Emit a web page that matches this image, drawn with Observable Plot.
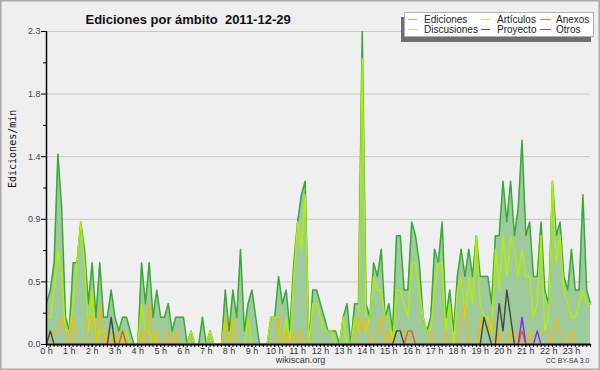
<!DOCTYPE html>
<html><head><meta charset="utf-8">
<script src="https://cdn.jsdelivr.net/npm/d3@7"></script>
<script src="https://cdn.jsdelivr.net/npm/@observablehq/plot@0.6"></script>
<style>
html,body{margin:0;padding:0;background:#fff}
svg text{white-space:pre}
</style></head><body><div id="chart"></div>
<script>
// 10-minute buckets, 0:00 .. 23:50 (edits per minute)
const ediciones = [
 0.3,0.4,0.6,1.4,1.0,0.2,0.1,0.6,0.6,0.9,
 0.7,0.3,0.6,0.2,0.6,0.2,0.2,0.4,0.2,0.1,
 0.2,0.2,0.1,0,0,0.6,0.3,0.6,0.2,0.4,
 0.2,0.2,0.3,0.1,0.2,0.2,0.2,0,0.1,0,
 0,0.2,0,0.1,0,0,0,0.4,0.1,0.4,
 0.2,0.7,0.1,0.3,0.4,0.2,0,0,0,0.2,
 0.2,0.5,0.3,0.4,0.1,0.6,0.9,1.1,1.2,0,
 0.4,0.4,0.3,0.2,0.1,0.1,0.1,0,0.2,0.3,
 0,0.3,0.3,2.3,0.3,0.2,0.6,0.5,0.7,0.2,
 0.3,0.1,0.8,0.8,0.4,0.4,0.9,0.8,0.6,0.2,
 0.1,0.2,0.7,0.6,0.9,0.2,0.4,0.1,0.5,0.7,
 0.5,0.7,0.5,0.8,0.5,0.5,0.5,0.3,0.8,0.8,
 1.2,0.9,1.2,0.8,1.0,1.5,0.8,0.9,0.5,0.5,
 0.9,0.4,0.3,1.2,0.8,0.9,0.5,0.4,0.7,0.4,
 0.4,1.1,0.4,0.3];
const articulos = [
 0.2,0.2,0.4,0.7,0.5,0.1,0.1,0.3,0.6,0.9,
 0.6,0.1,0.4,0,0.1,0.1,0.1,0,0.1,0,
 0,0.1,0,0,0,0.3,0.1,0.1,0,0.1,
 0,0,0,0,0,0,0,0,0.1,0,
 0,0,0,0.1,0,0,0,0.2,0,0.2,
 0,0,0,0.2,0,0,0,0,0,0.2,
 0.2,0.2,0,0.2,0,0.5,0.9,0.7,1.1,0,
 0.3,0.3,0.2,0.1,0.1,0.1,0,0,0.2,0,
 0,0.2,0.1,2.1,0.1,0.2,0.5,0.4,0.4,0.2,
 0.2,0,0.4,0.4,0.3,0.2,0.6,0.6,0.4,0.2,
 0.1,0.1,0.4,0.6,0.6,0.1,0.3,0,0.4,0.5,
 0.2,0.5,0.3,0.8,0.3,0.2,0.2,0.1,0.7,0.4,
 0.8,0.5,0.8,0.7,0.5,0.7,0.5,0.5,0.2,0.3,
 0.8,0.1,0.2,1.2,0.6,0.8,0.4,0.3,0.2,0.2,
 0.3,0.4,0.3,0.3];
const discusiones = [
 0,0,0.1,0.1,0.2,0.1,0,0.2,0,0,
 0,0.2,0.2,0,0.3,0,0.1,0,0.1,0,
 0.1,0,0,0,0,0.1,0,0.3,0,0.1,
 0,0,0.1,0,0.1,0,0,0,0,0,
 0,0,0,0,0,0,0,0.2,0,0.2,
 0,0,0,0,0,0,0,0,0,0,
 0,0.2,0,0.1,0,0.1,0,0.1,0,0,
 0,0,0,0,0,0,0,0,0,0,
 0,0,0.2,0.1,0.2,0,0,0.1,0.2,0,
 0.1,0,0.1,0.1,0.1,0,0,0,0,0,
 0,0.1,0,0,0,0.1,0,0,0,0.2,
 0.3,0,0,0,0.2,0.1,0.1,0.2,0,0.1,
 0,0,0.1,0,0.1,0,0,0.1,0,0.1,
 0.1,0.1,0.1,0,0.2,0.1,0,0,0.1,0,
 0,0,0,0];
const anexos = [
 0,0,0,0,0,0,0,0,0,0, 0,0,0,0,0,0,0,0,0,0,
 0.1,0,0,0,0,0,0,0,0,0, 0,0,0,0,0,0,0,0,0,0,
 0,0,0,0,0,0,0,0,0,0, 0,0,0,0,0,0,0,0,0,0,
 0,0,0,0,0,0,0,0,0,0, 0,0,0,0,0,0,0,0,0,0,
 0,0,0,0,0,0,0,0,0,0, 0,0,0,0,0,0.1,0.1,0,0,0,
 0,0,0,0,0,0,0,0,0,0, 0,0,0,0,0,0,0,0,0,0,
 0,0,0,0,0,0.1,0,0,0,0, 0,0,0,0,0,0,0,0,0,0,
 0,0,0,0];
const proyecto = [
 0,0.1,0,0,0,0,0,0,0,0, 0,0,0,0,0,0,0,0.2,0,0,
 0,0,0,0,0,0,0,0,0,0, 0,0,0,0,0,0,0,0,0,0,
 0,0,0,0,0,0,0,0,0,0, 0,0,0,0,0,0,0,0,0,0,
 0,0,0,0,0,0,0,0,0,0, 0,0,0,0,0,0,0,0,0,0,
 0,0,0,0,0,0,0,0,0,0, 0,0,0.1,0.1,0,0,0,0,0,0,
 0,0,0,0,0,0,0,0,0,0, 0,0,0,0,0,0.2,0.1,0,0,0.3,
 0.1,0.4,0.2,0,0,0,0,0,0,0, 0,0,0,0,0,0,0,0,0,0,
 0,0,0,0];
const otros = [
 0,0,0,0,0,0,0,0,0,0, 0,0,0,0,0,0,0,0,0,0,
 0,0,0,0,0,0,0,0,0,0, 0,0,0,0,0,0,0,0,0,0,
 0,0,0,0,0,0,0,0,0,0, 0,0,0,0,0,0,0,0,0,0,
 0,0,0,0,0,0,0,0,0,0, 0,0,0,0,0,0,0,0,0,0,
 0,0,0,0,0,0,0,0,0,0, 0,0,0,0,0,0,0,0,0,0,
 0,0,0,0,0,0,0,0,0,0, 0,0,0,0,0,0,0,0,0,0,
 0,0,0,0,0,0.2,0,0,0,0.1, 0,0,0,0,0,0,0,0,0,0,
 0,0,0,0];

const seriesNames = ["Ediciones","Artículos","Anexos","Discusiones","Proyecto","Otros"];
const hourLabels = ["0 h","1 h","2 h","3 h","4 h","5 h","6 h","7 h","8 h","9 h","10 h","11 h",
  "12 h","13 h","14 h","15 h","16 h","17 h","18 h","19 h","20 h","21 h","22 h","23 h"];
const yTickValues = [0, 0.46, 0.92, 1.38, 1.84, 2.3];
const yTickLabels = ["0.0","0.5","0.9","1.4","1.8","2.3"];
const yMinorValues = [0.23, 0.69, 1.15, 1.61, 2.07];
const title = "Ediciones por ámbito  2011-12-29";
const yTitle = "Ediciones/min";

const colors = {
  "Ediciones": "#36aa33", "Artículos": "#b4ee00", "Anexos": "#ea5a1e",
  "Discusiones": "#f2b812", "Proyecto": "#444444", "Otros": "#7a2ef0"
};
const legendColors = {
  "Ediciones": "#7fc97c", "Artículos": "#c6ec3c", "Anexos": "#f07a50",
  "Discusiones": "#f8cb3c", "Proyecto": "#555555", "Otros": "#8a48f0"
};

const rows = arr => arr.map((v, i) => ({t: i, v}));
const slots = ediciones.map((_, i) => i);
const hourSlots = hourLabels.map((_, h) => h * 6);

const lineOf = (arr, name, w = 1.4) =>
  Plot.lineY(rows(arr), {x: "t", y: "v", stroke: colors[name], strokeWidth: w});

const chart = Plot.plot({
  width: 600, height: 370,
  marginTop: 31, marginRight: 10, marginBottom: 26, marginLeft: 46,
  style: {background: "#efeff0", fontFamily: "'Liberation Sans', Arial, sans-serif", fontSize: "9px", color: "#333", overflow: "visible"},
  x: {domain: [0, slots.length - 1], label: null},
  y: {domain: [0, 2.3], label: null},
  marks: [
    Plot.ruleY(yTickValues.slice(1), {stroke: "#c8c8c8", strokeWidth: 1}),
    Plot.areaY(rows(ediciones), {x: "t", y: "v", fill: "#9fcb9c"}),
    lineOf(ediciones, "Ediciones", 1.5),
    lineOf(articulos, "Artículos"),
    lineOf(discusiones, "Discusiones"),
    lineOf(anexos, "Anexos"),
    lineOf(proyecto, "Proyecto"),
    lineOf(otros, "Otros"),
    Plot.axisX({ticks: slots, tickSize: 3, tickFormat: () => "", stroke: "#000"}),
    Plot.axisX({ticks: hourSlots, tickSize: 3, tickPadding: 0, stroke: "#000",
      tickFormat: d => hourLabels[d / 6], fill: "#333", fontSize: 9}),
    Plot.axisY({ticks: yMinorValues, tickSize: 3, tickFormat: () => "", stroke: "#000"}),
    Plot.axisY({ticks: yTickValues, tickSize: 5, tickPadding: 1, stroke: "#000",
      tickFormat: d => yTickLabels[yTickValues.indexOf(d)], fill: "#444", fontSize: 9}),
    Plot.ruleX([0], {stroke: "#000", strokeWidth: 1.5}),
    Plot.ruleY([0], {stroke: "#000", strokeWidth: 1.5}),
    Plot.text([yTitle], {frameAnchor: "left", dx: -34, rotate: -90, text: d => d,
      fontFamily: "'DejaVu Sans Mono', monospace", fontSize: 10, fill: "#111"}),
    Plot.text([title], {frameAnchor: "top-left", dx: 39, dy: -16.5, textAnchor: "start", text: d => d,
      fontWeight: "bold", fontSize: 13, fill: "#111"}),
    Plot.text(["wikiscan.org"], {frameAnchor: "bottom", dx: -18, dy: 18, text: d => d,
      fontSize: 9, fill: "#333"}),
    Plot.text(["CC BY-SA 3.0"], {frameAnchor: "bottom-right", dx: -1, dy: 18, textAnchor: "end", text: d => d,
      fontSize: 7, fill: "#333"})
  ]
});

document.getElementById("chart").append(chart);

// legend (drawn into the same SVG)
const svg = d3.select(chart);
const lg = svg.append("g").attr("font-family", "'Liberation Sans', Arial, sans-serif")
  .attr("font-size", 10).attr("text-anchor", "start");
lg.append("rect").attr("x", 401).attr("y", 17).attr("width", 190).attr("height", 25).attr("fill", "#6e6e6e");
lg.append("rect").attr("x", 404.5).attr("y", 12.5).attr("width", 189).attr("height", 24).attr("fill", "#fff").attr("stroke", "#b0b0b0");
const cols = [[408, 424], [481, 497], [540, 556]];
const order = [["Ediciones", 0, 0], ["Artículos", 1, 0], ["Anexos", 2, 0],
               ["Discusiones", 0, 1], ["Proyecto", 1, 1], ["Otros", 2, 1]];
order.forEach(([name, c, r]) => {
  const y = 19.5 + r * 10;
  lg.append("line").attr("x1", cols[c][0]).attr("x2", cols[c][0] + (c === 2 ? 11 : 9))
    .attr("y1", y).attr("y2", y).attr("stroke", legendColors[name]).attr("stroke-width", 1);
  lg.append("text").attr("x", cols[c][1]).attr("y", y).attr("dy", "0.35em").attr("fill", "#222").text(name);
});
// outer frame
svg.append("rect").attr("x", 0.75).attr("y", 0.75).attr("width", 598.5).attr("height", 368.5)
  .attr("fill", "none").attr("stroke", "#a8a8a8").attr("stroke-width", 1.5);
</script></body></html>
